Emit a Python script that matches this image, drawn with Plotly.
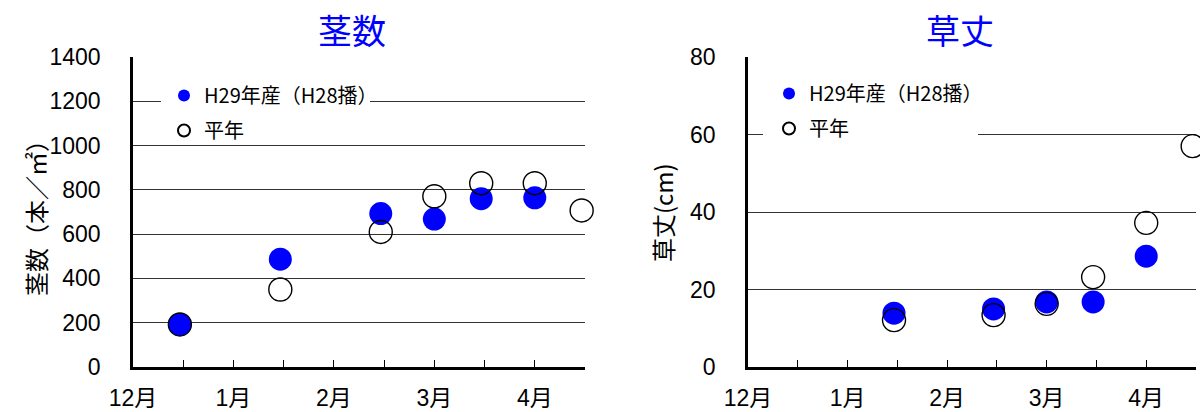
import plotly.graph_objects as go

# ---- data ----
month_labels = ["12月", "1月", "2月", "3月", "4月"]
obs_dates = ["12/15", "1/15", "2/15", "3/1", "3/15", "4/1", "4/15"]

stems_h29 = [192, 487, 693, 668, 760, 764, None]
stems_avg = [192, 350, 610, 771, 830, 830, 707]

height_dates = ["1/15", "2/15", "3/1", "3/15", "4/1", "4/15"]
height_h29 = [13.9, 15.0, 16.8, 16.8, 28.6, None]
height_avg = [12.1, 13.4, 16.3, 23.2, 37.2, 57.0]

name_h29 = "H29年産（H28播）"
name_avg = "平年"

# convert dates to month position (Dec 1 = 0, half-month = 0.5)
month_order = [12, 1, 2, 3, 4]


def pos(d):
    m, day = d.split("/")
    return month_order.index(int(m)) + (int(day) - 1) / 30.0


x_stems = [pos(d) for d in obs_dates]
x_height = [pos(d) for d in height_dates]

tickvals = [i * 0.5 for i in range(10)]
ticktext = []
for i in range(10):
    ticktext.append(month_labels[i // 2] if i % 2 == 0 else "")

FONT = "Liberation Sans, Noto Sans CJK JP, sans-serif"
CJK = "Noto Sans CJK JP, sans-serif"
BLUE = "#0000FF"
GRID = "#333333"

fig = go.Figure()

fig.add_trace(go.Scatter(x=x_stems, y=stems_h29, mode="markers", name=name_h29,
                         marker=dict(size=23, color=BLUE, line=dict(width=0)),
                         xaxis="x", yaxis="y", legend="legend", legendgroup="a",
                         cliponaxis=False))
fig.add_trace(go.Scatter(x=x_stems, y=stems_avg, mode="markers", name=name_avg,
                         marker=dict(size=23, symbol="circle-open", color="black",
                                     line=dict(width=1.4, color="black")),
                         xaxis="x", yaxis="y", legend="legend", legendgroup="b",
                         cliponaxis=False))
fig.add_trace(go.Scatter(x=x_height, y=height_h29, mode="markers", name=name_h29,
                         marker=dict(size=23, color=BLUE, line=dict(width=0)),
                         xaxis="x2", yaxis="y2", legend="legend2", legendgroup="c",
                         cliponaxis=False))
fig.add_trace(go.Scatter(x=x_height, y=height_avg, mode="markers", name=name_avg,
                         marker=dict(size=23, symbol="circle-open", color="black",
                                     line=dict(width=1.4, color="black")),
                         xaxis="x2", yaxis="y2", legend="legend2", legendgroup="d",
                         cliponaxis=False))

W, H = 1200, 412
ydom = [1 - 367 / H, 1 - 57 / H]

xcommon = dict(range=[0, 4.5], tickvals=tickvals, ticktext=ticktext,
               ticks="inside", ticklen=7, tickwidth=1.3, tickcolor="black",
               showline=True, linecolor="black", linewidth=2.5, showgrid=False,
               zeroline=False, tickfont=dict(family=FONT, size=23, color="black"),
               ticklabelstandoff=9, fixedrange=True, automargin=False)
ycommon = dict(showline=True, linecolor="black", linewidth=2.5, showgrid=True,
               gridcolor=GRID, gridwidth=1.2, zeroline=False, ticks="",
               tickfont=dict(family=FONT, size=23, color="black"),
               ticklabelstandoff=25, fixedrange=True, automargin=False)

legcommon = dict(bgcolor="rgba(0,0,0,0)", borderwidth=0, itemsizing="constant",
                 font=dict(family=CJK, size=20, color="black"),
                 tracegroupgap=6, traceorder="grouped",
                 xanchor="left", yanchor="top", itemwidth=30)


def px_rect(x0, y0, x1, y1):
    # white backdrop behind the legend (hides gridlines there)
    return dict(type="rect", xref="paper", yref="paper", layer="above",
                x0=x0 / W, x1=x1 / W, y0=1 - y1 / H, y1=1 - y0 / H,
                fillcolor="white", line=dict(width=0))


ann_font = dict(family=CJK, size=34, color=BLUE)
fig.update_layout(
    width=W, height=H,
    margin=dict(l=0, r=0, t=0, b=0, autoexpand=False),
    paper_bgcolor="white", plot_bgcolor="white",
    xaxis=dict(domain=[133 / W, 585 / W], anchor="y", **xcommon),
    yaxis=dict(domain=ydom, anchor="x", range=[0, 1400], dtick=200, **ycommon),
    xaxis2=dict(domain=[748 / W, 1196 / W], anchor="y2", **xcommon),
    yaxis2=dict(domain=ydom, anchor="x2", range=[0, 80], dtick=20, **ycommon),
    legend=dict(x=164 / W, y=1 - 76 / H, **legcommon),
    legend2=dict(x=769 / W, y=1 - 74 / H, **legcommon),
    shapes=[px_rect(161, 78, 370, 140), px_rect(763, 74, 978, 140)],
    annotations=[
        dict(text="茎数", x=352 / W, y=1 - 30 / H, xref="paper", yref="paper",
             xanchor="center", yanchor="middle", showarrow=False, font=ann_font),
        dict(text="草丈", x=960 / W, y=1 - 30 / H, xref="paper", yref="paper",
             xanchor="center", yanchor="middle", showarrow=False, font=ann_font),
        dict(text="茎数（本／㎡）", x=35 / W, y=1 - 212 / H, xref="paper", yref="paper",
             xanchor="center", yanchor="middle", showarrow=False, textangle=-90,
             font=dict(family=CJK, size=24, color="black")),
        dict(text="草丈(cm)", x=662 / W, y=1 - 213 / H, xref="paper", yref="paper",
             xanchor="center", yanchor="middle", showarrow=False, textangle=-90,
             font=dict(family=CJK, size=24, color="black")),
    ],
)

fig.write_html("out.html", config={"displayModeBar": False},
               post_script="document.body.style.margin='0px';document.body.style.padding='0px';")
